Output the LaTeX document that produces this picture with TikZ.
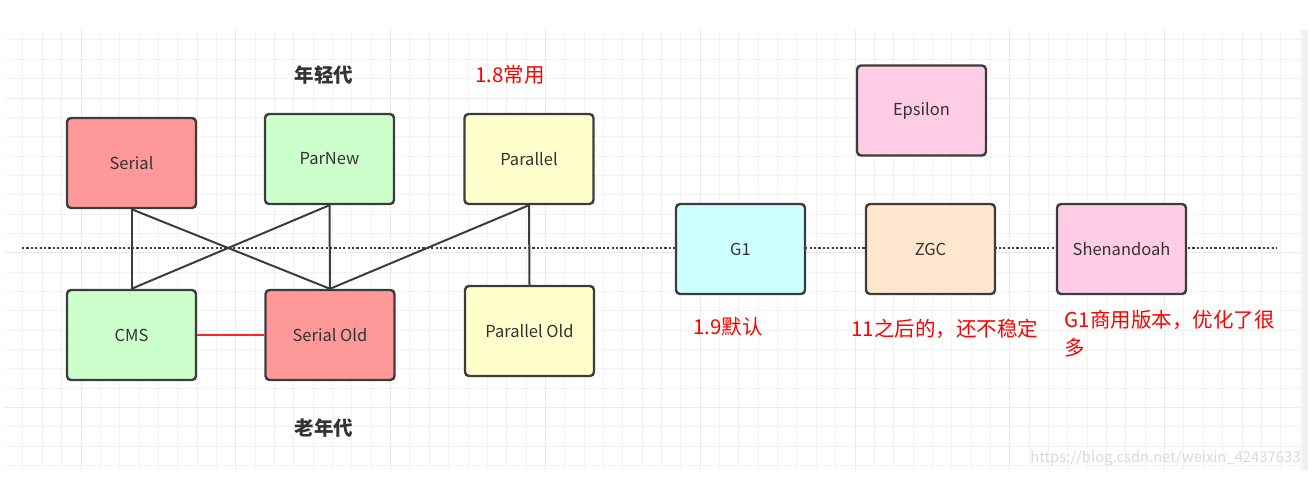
\documentclass[tikz,border=0pt]{standalone}
\usepackage{fontspec}
\setmainfont{Noto Sans CJK SC}
\usepackage{tikz}
\usetikzlibrary{positioning}

\definecolor{serialred}{HTML}{FF9999}
\definecolor{pargreen}{HTML}{CCFFCC}
\definecolor{paryellow}{HTML}{FFFFCC}
\definecolor{gonecyan}{HTML}{CCFFFF}
\definecolor{zgcorange}{HTML}{FFE6CC}
\definecolor{shenpink}{HTML}{FFCCE6}
\definecolor{boxborder}{HTML}{3C3C3C}
\definecolor{boxtext}{HTML}{333333}
\definecolor{minorgrid}{HTML}{F2F2F2}
\definecolor{majorgrid}{HTML}{EAEAEA}

\begin{document}
\begin{tikzpicture}[x=1pt, y=-1pt,
  gcbox/.style={draw=boxborder, line width=2.4pt, rounded corners=4pt,
    minimum width=129pt, minimum height=90pt, text=boxtext,
    font=\fontsize{16.5pt}{19pt}\selectfont},
  link/.style={draw=boxborder, line width=2pt},
  note/.style={text=red, anchor=west, font=\fontsize{20.5pt}{28pt}\selectfont},
  gen/.style={text=boxtext, font=\fontsize{19.5pt}{22pt}\selectfont\bfseries}]
\useasboundingbox (0,0) rectangle (1312,477);

% Draw the grid
\begin{scope}
\clip (5,30) rectangle (1302,470);
\foreach \k in {-4,...,63}
  \draw[minorgrid, line width=1pt] ({81+\k*19.35},30) -- ({81+\k*19.35},470);
\foreach \k in {-4,...,19}
  \draw[minorgrid, line width=1pt] (5,{98+\k*19.35}) -- (1302,{98+\k*19.35});
\foreach \k in {0,8,...,56}
  \draw[majorgrid, line width=1pt] ({81+\k*19.35},30) -- ({81+\k*19.35},470);
\foreach \k in {0,8,16}
  \draw[majorgrid, line width=1pt] (5,{98+\k*19.35}) -- (1302,{98+\k*19.35});
\end{scope}
\fill[gray!12] (1302,30) rectangle (1308,470);

% The dotted divider
\coordinate (divL) at (22,248);
\coordinate (divR) at (1277,248);
\draw[boxborder, line width=2.2pt, dash pattern=on 2.2pt off 2.2pt] (divL) -- (divR);

% Young generation
\node[gcbox, fill=serialred] (serial) at (131.5,163) {Serial};
\node[gcbox, fill=pargreen] (parnew) at (329.5,159) {ParNew};
\node[gcbox, fill=paryellow] (parallel) at (529,159) {Parallel};

% Old generation
\node[gcbox, fill=pargreen] (cms) at (131.5,335) {CMS};
\node[gcbox, fill=serialred] (serialold) at (330,335) {Serial Old};
\node[gcbox, fill=paryellow] (parallelold) at (529.5,331) {Parallel Old};

% Whole heap collectors
\node[gcbox, fill=shenpink] (epsilon) at (921.5,110.5) {Epsilon};
\node[gcbox, fill=gonecyan] (gone) at (740.5,249) {G1};
\node[gcbox, fill=zgcorange] (zgc) at (930.5,249) {ZGC};
\node[gcbox, fill=shenpink] (shen) at (1121.5,249) {Shenandoah};

% Pairings
\draw[link] (serial.south) -- (cms.north);
\draw[link] (serial.south) -- (serialold.north);
\draw[link] (parnew.south) -- (cms.north);
\draw[link] (parnew.south) -- (serialold.north);
\draw[link] (parallel.south) -- (serialold.north);
\draw[link] (parallel.south) -- (parallelold.north);
\draw[red!85!white, line width=2.4pt] (cms.east) -- (serialold.west);

% Labels
\node[gen] (young) at (324,75) {年轻代};
\node[gen] (old) at (324,428) {老年代};
\node[note] (n18) at (472,75) {1.8常用};
\node[note] (n19) at (690,327) {1.9默认};
\node[note] (n11) at (848,329) {11之后的，还不稳定};
\node[note, align=left, anchor=north west] (ng1) at (1061,307) {G1商用版本，优化了很\\多};

% Watermark
\node[text=gray!30, anchor=east, font=\fontsize{14.8pt}{16pt}\selectfont] (mark) at (1304,458) {https://blog.csdn.net/weixin\_42437633};
\end{tikzpicture}
\end{document}
